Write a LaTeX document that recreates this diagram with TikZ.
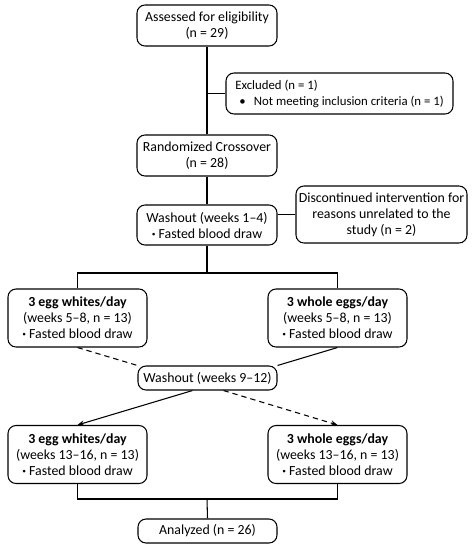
\documentclass[tikz,border=0pt]{standalone}
\usepackage{fontspec}
\setmainfont{Carlito}
\usetikzlibrary{arrows.meta,positioning,calc}
\newcommand{\blooddraw}{{\bfseries\textperiodcentered}\ Fasted blood draw}

\begin{document}
\begin{tikzpicture}[x=0.75pt, y=-0.75pt,
  every node/.style={font=\fontsize{10.4pt}{12pt}\selectfont},
  flowbox/.style={draw, thick, rounded corners=6pt, align=center, inner sep=0pt},
  mainbox/.style={flowbox, minimum width=105pt, minimum height=30.75pt},
  armbox/.style={flowbox, minimum width=104.25pt, minimum height=43.5pt},
  slimbox/.style={flowbox, minimum width=104.25pt, minimum height=18pt},
  link/.style={thick},
  swap/.style={thick, dash pattern=on 4pt off 3pt}]
  \useasboundingbox (0,0) rectangle (472,550);

  % Enrolment
  \node[mainbox] (assess) at (207,25.5) {Assessed for eligibility\\(n = 29)};
  \node[flowbox, minimum width=170.25pt, minimum height=30.75pt, align=left,
        font=\fontsize{9.6pt}{12pt}\selectfont] (excl) at (339.5,93.5)
        {Excluded (n = 1)\\\hspace*{3pt}\makebox[11pt][l]{\textbullet}Not meeting inclusion criteria (n = 1)};
  \node[mainbox] (rand) at (207,155.5) {Randomized Crossover\\(n = 28)};
  \node[mainbox, minimum height=30pt] (wash1) at (207,225) {Washout (weeks 1--4)\\\blooddraw};
  \node[flowbox, minimum width=128.25pt, minimum height=42.75pt] (disc) at (381.5,214.5)
        {Discontinued intervention for\\reasons unrelated to the\\study (n = 2)};

  % First period
  \node[armbox] (white1) at (77.5,318) {\textbf{3 egg whites/day}\\(weeks 5--8, n = 13)\\\blooddraw};
  \node[armbox] (whole1) at (337.5,318) {\textbf{3 whole eggs/day}\\(weeks 5--8, n = 13)\\\blooddraw};
  \node[slimbox] (wash2) at (207.5,378) {Washout (weeks 9--12)};

  % Second period
  \node[armbox] (white2) at (77.5,454.5) {\textbf{3 egg whites/day}\\(weeks 13--16, n = 13)\\\blooddraw};
  \node[armbox] (whole2) at (337.5,454.5) {\textbf{3 whole eggs/day}\\(weeks 13--16, n = 13)\\\blooddraw};
  \node[slimbox] (anal) at (207.5,531) {Analyzed (n = 26)};

  % Trunk
  \coordinate (split) at (207,273);
  \coordinate (join) at (207,499);
  \draw[link] (assess.south) -- (rand.north);
  \draw[link] (excl.west) -- (excl.west -| assess.south);
  \draw[link] (rand.south) -- (wash1.north);
  \draw[link] (disc.west) -- (disc.west -| wash1.east);
  \draw[link] (wash1.south) -- (split);
  \draw[link] (white1.north) |- (split) -| (whole1.north);

  % Crossover
  \draw[swap] (white1.south) -- (wash2.north west);
  \draw[link] (whole1.south) -- (wash2.north east);
  \draw[link, -{Stealth[length=5pt,width=4pt]}] ([xshift=-11.25pt]wash2.south) -- (white2.north);
  \draw[swap, -{Stealth[length=5pt,width=4pt]}] ([xshift=12pt]wash2.south) -- (whole2.north);

  % Analysis
  \draw[link] (white2.south) |- (join) -| (whole2.south);
  \draw[link] (join) -- (anal.north);
\end{tikzpicture}
\end{document}
